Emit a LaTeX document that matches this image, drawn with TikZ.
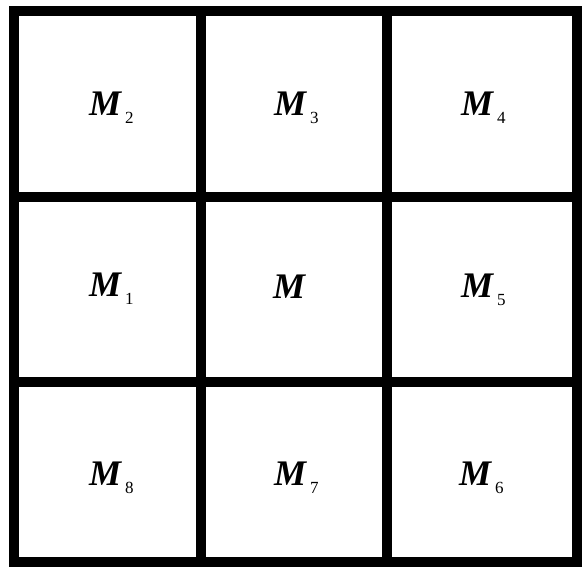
\documentclass[tikz,border=0pt]{standalone}
\usepackage{fontspec}
\setmainfont{Liberation Serif}
\newcommand{\lbl}[1]{{\fontsize{36}{36}\selectfont\bfseries\itshape M}}
\newcommand{\lbs}[1]{{\fontsize{36}{36}\selectfont\bfseries\itshape M}\kern4pt\raisebox{-8pt}{\fontsize{17}{17}\selectfont #1}}
\begin{document}
\begin{tikzpicture}[x=1pt,y=-1pt,
  gridline/.style={line width=10pt,line cap=rect,line join=miter},
  cell/.style={inner sep=0pt,anchor=base west}]
\useasboundingbox (0,0) rectangle (584,568);
\draw[gridline] (14,11) rectangle (577,562);
\draw[gridline] (201,11) -- (201,562);
\draw[gridline] (387,11) -- (387,562);
\draw[gridline] (14,197) -- (577,197);
\draw[gridline] (14,382) -- (577,382);
\node[cell] (m2) at (89,115) {\lbs{2}};
\node[cell] (m3) at (274,115) {\lbs{3}};
\node[cell] (m4) at (461,115) {\lbs{4}};
\node[cell] (m1) at (89,296) {\lbs{1}};
\node[cell] (m) at (273,298) {\lbl{}};
\node[cell] (m5) at (461,297) {\lbs{5}};
\node[cell] (m8) at (89,485) {\lbs{8}};
\node[cell] (m7) at (274,485) {\lbs{7}};
\node[cell] (m6) at (459,485) {\lbs{6}};
\end{tikzpicture}
\end{document}
